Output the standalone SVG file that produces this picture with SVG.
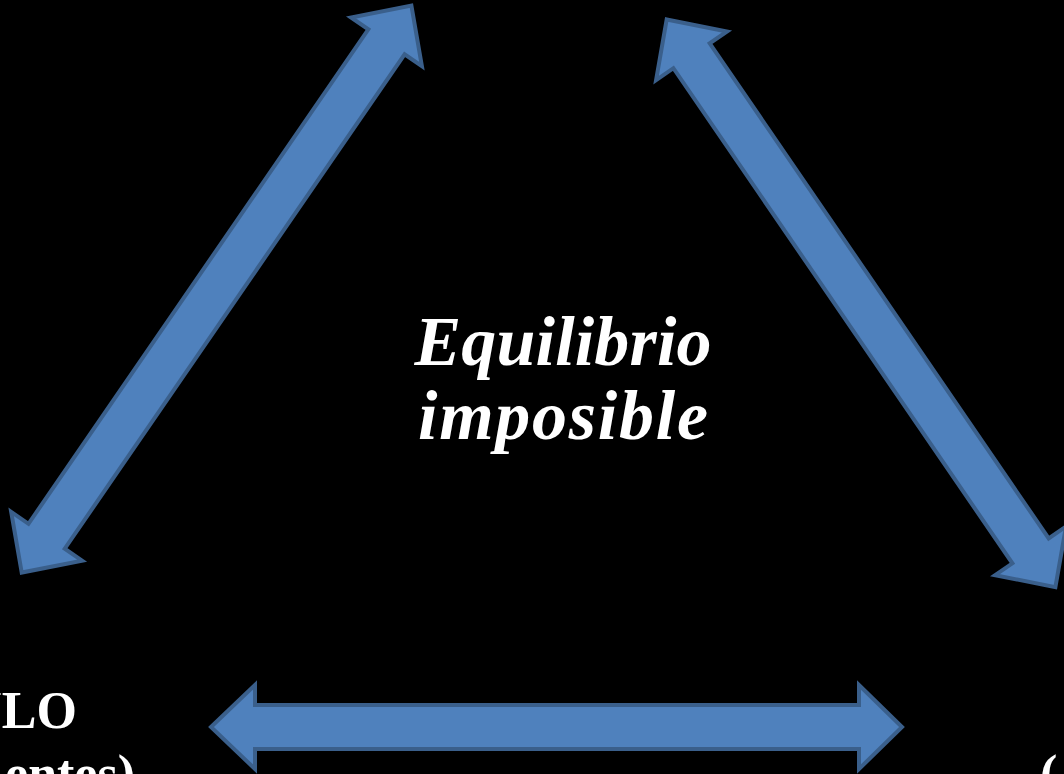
<svg xmlns="http://www.w3.org/2000/svg" width="1064" height="774" viewBox="0 0 1064 774">
  <style>
    .arrow { fill: #4F81BD; stroke: #3A5F8B; stroke-width: 4; stroke-linejoin: miter; }
    .lbl { fill: #FFFFFF; font-family: "Liberation Serif", "Times New Roman", serif; font-weight: bold; }
    .center { font-style: italic; font-size: 70px; }
    .side { font-size: 52px; }
  </style>
  <defs>
    <polygon id="diag" points="3,0 47,-43 47,-22 647,-22 647,-43 691,0 647,43 647,22 47,22 47,43"/>
  </defs>
  <rect x="0" y="0" width="1064" height="774" fill="#000000"/>
  <g id="connectors">
    <use href="#diag" class="arrow" transform="translate(20,575) rotate(-55.5)"/>
    <use href="#diag" class="arrow" transform="translate(665,17) rotate(55.6)"/>
    <polygon class="arrow" points="211,727 255,685 255,705 859,705 859,685 902,727 859,769 859,749 255,749 255,769"/>
  </g>
  <g id="node-center">
    <text class="lbl center" x="563" y="365" text-anchor="middle" textLength="297" lengthAdjust="spacing">Equilibrio</text>
    <text class="lbl center" x="563" y="439" text-anchor="middle" textLength="290" lengthAdjust="spacing">imposible</text>
  </g>
  <g id="node-left">
    <text class="lbl side" x="77" y="728" text-anchor="end">ULO</text>
    <text class="lbl side" x="135" y="791" text-anchor="end">entes)</text>
  </g>
  <g id="node-right">
    <text class="lbl side" x="1040" y="791">(</text>
  </g>
</svg>
